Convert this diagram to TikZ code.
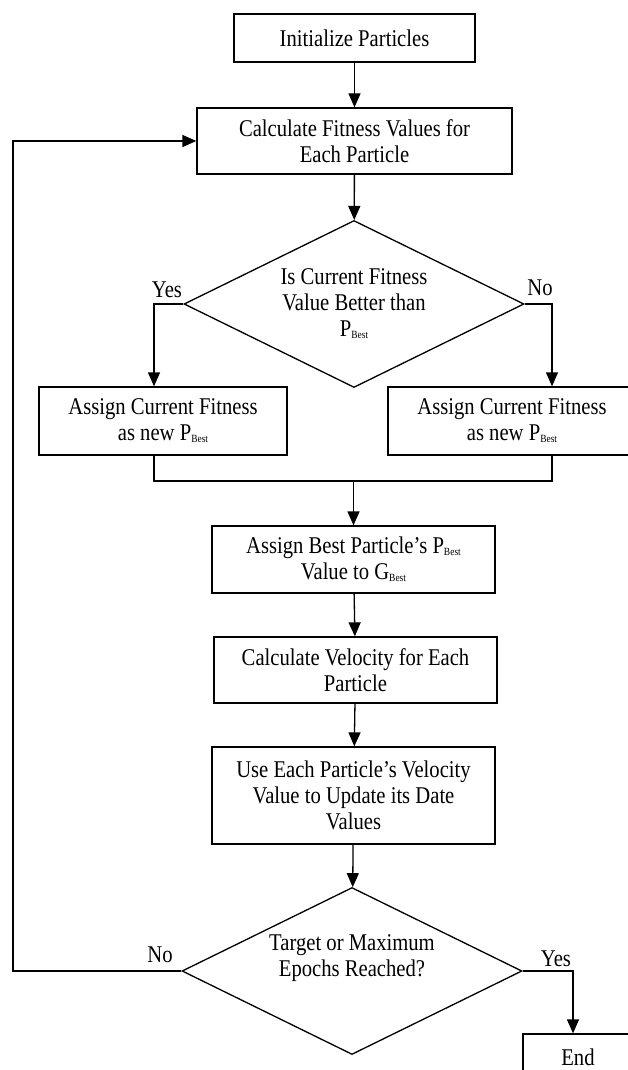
\documentclass[tikz,border=0pt]{standalone}
\usepackage{fontspec}
\setmainfont{Liberation Serif}[FakeStretch=0.86]
\usetikzlibrary{shapes.geometric,arrows.meta}

\newcommand{\subbest}{\raisebox{-2pt}{\fontsize{11}{11}\selectfont Best}}

\begin{document}
\begin{tikzpicture}[x=1pt,y=-1pt,
    every node/.style={font=\fontsize{24}{26}\selectfont},
    box/.style={draw,line width=1.3pt,align=center,inner sep=0pt},
    decision/.style={draw,line width=1.3pt,shape=diamond,aspect=2.04,inner sep=0pt,
      minimum width=340pt,minimum height=167pt,align=center},
    arr/.style={line width=1.3pt,-{Triangle[length=14pt,width=12pt]}},
    link/.style={line width=1.3pt}]

  \path[use as bounding box,fill=white] (0,0) rectangle (627,1070);

  % Boxes
  \node[box,minimum width=241pt,minimum height=48pt] (init) at (354.5,38) {Initialize Particles};
  \node[box,minimum width=315pt,minimum height=66pt] (calc) at (354.5,141) {Calculate Fitness Values for\\Each Particle};
  \node[decision] (dia1) at (354,304) {Is Current Fitness\\Value Better than\\P\subbest};
  \node[box,minimum width=248pt,minimum height=68pt] (left) at (163,421) {Assign Current Fitness\\as new P\subbest};
  \node[box,minimum width=248pt,minimum height=68pt] (right) at (512,421) {Assign Current Fitness\\as new P\subbest};
  \node[box,minimum width=283pt,minimum height=67pt] (gbest) at (353.5,559.5) {Assign Best Particle’s P\subbest\\Value to G\subbest};
  \node[box,minimum width=283pt,minimum height=66pt] (velo) at (355.5,670) {Calculate Velocity for Each\\Particle};
  \node[box,minimum width=283pt,minimum height=97pt] (update) at (353.5,795.5) {Use Each Particle’s Velocity\\Value to Update its Date\\Values};
  \node[decision,label={[yshift=13pt,align=center]center:Target or Maximum\\Epochs Reached?}] (dia2) at (352,971) {};
  \node[box,minimum width=110pt,minimum height=46pt] (end) at (578,1057) {End};

  % Bend points
  \coordinate (ybend) at (154,304);
  \coordinate (nbend) at (552,304);
  \coordinate (mleft) at (154,481);
  \coordinate (mright) at (552,481);
  \coordinate (mmid) at (353.5,481);
  \coordinate (loop) at (13,0);
  \coordinate (ebend) at (573,971);

  % Connectors
  \draw[arr] (init) -- (calc);
  \draw[arr] (calc) -- (dia1);
  \draw[arr] (dia1.west) -- (ybend) -- (ybend |- left.north);
  \draw[arr] (dia1.east) -- (nbend) -- (nbend |- right.north);
  \draw[link] (mleft |- left.south) -- (mleft) -- (mright) -- (mright |- right.south);
  \draw[arr] (mmid) -- (gbest);
  \draw[arr] (gbest) -- (velo);
  \draw[arr] (velo) -- (update);
  \draw[arr] (update) -- (dia2);
  \draw[arr] (dia2.west) -- (dia2.west -| loop) |- (calc.west); % Loop back
  \draw[arr] (dia2.east) -- (ebend) -- (ebend |- end.north);

  % Branch labels
  \node (yes1) at (167,290) {Yes};
  \node (no1) at (540,288) {No};
  \node (no2) at (160,955) {No};
  \node (yes2) at (556,959) {Yes};

\end{tikzpicture}
\end{document}
